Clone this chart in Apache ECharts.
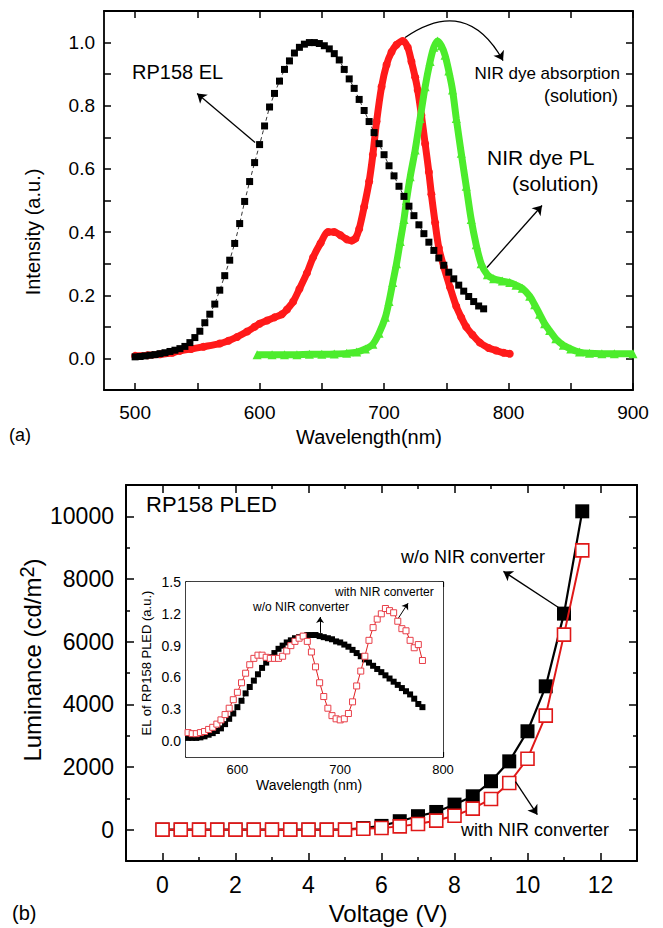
<!DOCTYPE html>
<html><head><meta charset="utf-8">
<script src="https://cdn.jsdelivr.net/npm/echarts@6/dist/echarts.min.js"></script>
<style>html,body{margin:0;padding:0;background:#fff}#c{width:663px;height:928px}</style>
</head><body><div id="c"></div>
<script>
// ---------- Panel (a) data ----------
const elWl = [500,504,508,512,516,520,524,528,532,536,540,544,548,552,556,560,564,568,572,576,580,584,588,592,596,600,604,608,612,616,620,624,628,632,636,640,644,648,652,656,660,664,668,672,676,680,684,688,692,696,700,704,708,712,716,720,724,728,732,736,740,744,748,752,756,760,764,768,772,776,780];
const elInt = [0.005,0.006,0.008,0.010,0.012,0.015,0.018,0.022,0.026,0.031,0.038,0.050,0.066,0.086,0.113,0.140,0.172,0.216,0.262,0.311,0.364,0.427,0.497,0.560,0.620,0.677,0.736,0.796,0.839,0.878,0.915,0.942,0.967,0.985,0.995,1.0,1.0,0.997,0.99,0.98,0.965,0.945,0.915,0.885,0.855,0.82,0.785,0.75,0.715,0.68,0.645,0.61,0.578,0.545,0.513,0.482,0.452,0.423,0.395,0.368,0.342,0.318,0.295,0.273,0.252,0.232,0.213,0.196,0.180,0.166,0.157];
const absWl = [500,510,520,530,536,545,555,568,575,582,590,596,600,606,612,618,622,627,632,638,643,649,655,660,665,670,674,677,680,684,688,691,694,698,702,706,710,715,719,722,725,727,730,733,736,738,741,744,748,753,758,762,766,771,777,784,790,796,801];
const absInt = [0.008,0.01,0.013,0.018,0.024,0.03,0.037,0.047,0.056,0.068,0.085,0.10,0.11,0.12,0.13,0.14,0.155,0.18,0.22,0.27,0.32,0.365,0.40,0.40,0.39,0.377,0.373,0.38,0.41,0.48,0.56,0.645,0.75,0.86,0.93,0.97,0.993,1.005,0.985,0.94,0.89,0.85,0.77,0.68,0.59,0.52,0.43,0.35,0.29,0.225,0.165,0.13,0.10,0.075,0.05,0.033,0.025,0.018,0.015];
const plWl = [598,610,620,630,640,650,660,670,678,685,691,696,701,704,707,710,713,716,718,721,725,729,733,737,740,743,746,749,752,755,758,762,766,770,774,778,783,788,795,801,806,811,817,821,825,829,833,838,844,850,857,865,875,885,900];
const plInt = [0.012,0.012,0.012,0.012,0.013,0.013,0.014,0.016,0.02,0.03,0.045,0.08,0.13,0.18,0.24,0.30,0.37,0.44,0.50,0.575,0.66,0.76,0.86,0.94,0.985,1.005,0.99,0.96,0.91,0.85,0.76,0.65,0.545,0.44,0.36,0.30,0.265,0.252,0.245,0.24,0.232,0.222,0.197,0.17,0.14,0.11,0.088,0.062,0.042,0.03,0.02,0.016,0.015,0.015,0.015];

// ---------- Panel (b) data ----------
const volt = [0,0.5,1,1.5,2,2.5,3,3.5,4,4.5,5,5.5,6,6.5,7,7.5,8,8.5,9,9.5,10,10.5,11,11.5];
const lumWo = [0,0,0,0,0,0,0,0,0,0,0,50,120,270,430,565,800,1065,1545,2180,3140,4575,6895,10160];
const lumWith = [0,0,0,0,0,0,0,0,0,0,0,30,55,105,180,290,445,670,980,1490,2265,3640,6225,8915];

// ---------- Inset data ----------
const insWl = [552,556,560,564,568,572,576,580,584,588,592,596,600,604,608,612,616,620,624,628,632,636,640,644,648,652,656,660,664,668,672,676,680,684,688,692,696,700,704,708,712,716,720,724,728,732,736,740,744,748,752,756,760,764,768,772,776,780];
const insWo = [0.03,0.03,0.03,0.035,0.045,0.06,0.075,0.095,0.12,0.16,0.21,0.26,0.32,0.38,0.45,0.51,0.57,0.63,0.69,0.74,0.79,0.83,0.87,0.90,0.93,0.95,0.97,0.98,0.99,1.0,1.0,1.0,0.99,0.98,0.97,0.96,0.94,0.93,0.91,0.89,0.86,0.83,0.80,0.77,0.74,0.71,0.68,0.65,0.62,0.59,0.56,0.53,0.50,0.47,0.44,0.40,0.35,0.32];
const insWith = [0.08,0.07,0.07,0.08,0.09,0.11,0.13,0.16,0.20,0.25,0.31,0.39,0.46,0.55,0.64,0.72,0.78,0.81,0.81,0.79,0.78,0.78,0.78,0.80,0.85,0.90,0.94,0.97,0.99,0.94,0.84,0.70,0.55,0.42,0.31,0.24,0.21,0.20,0.21,0.26,0.37,0.52,0.66,0.80,0.95,1.07,1.15,1.20,1.25,1.23,1.21,1.13,1.06,1.04,0.95,0.88,0.91,0.76];

// ---------- Tick values ----------
const aXMajor = [500,600,700,800,900], aXMinor = [550,650,750,850];
const aYMajor = [0,0.2,0.4,0.6,0.8,1.0], aYMinor = [0.1,0.3,0.5,0.7,0.9];
const bXMajor = [0,2,4,6,8,10,12], bXMinor = [1,3,5,7,9,11];
const bYMajor = [0,2000,4000,6000,8000,10000], bYMinor = [1000,3000,5000,7000,9000];
const iXMajor = [600,700,800], iXMinor = [650,750];
const iYMajor = [0,0.3,0.6,0.9,1.2,1.5], iYMinor = [0.15,0.45,0.75,1.05,1.35];

const FONT = '"Liberation Sans", Arial, Helvetica, sans-serif';
const zip = (a, b) => a.map((v, i) => [v, b[i]]);

function axisSet(kind, grid, min, max, major, minor, o) {
  const pos = kind === 'x' ? ['bottom', 'top'] : ['left', 'right'];
  const base = { gridIndex: grid, type: 'value', min: min, max: max, splitLine: { show: false }, animation: false };
  const line = { show: true, onZero: false, lineStyle: { color: '#000', width: o.lw } };
  const noLine = { show: false, onZero: false };
  const tk = (vals, len) => ({ show: true, inside: true, length: len, customValues: vals, lineStyle: { color: '#000', width: o.tw } });
  return [
    Object.assign({}, base, { position: pos[0], axisLine: line, axisTick: tk(major, o.maj),
      axisLabel: { show: true, customValues: major, formatter: o.fmt, fontSize: o.fs, fontFamily: FONT, color: '#000', margin: o.margin } }),
    Object.assign({}, base, { position: pos[0], axisLine: noLine, axisTick: tk(minor, o.min), axisLabel: { show: false } }),
    Object.assign({}, base, { position: pos[1], axisLine: line, axisTick: tk(major, o.maj), axisLabel: { show: false } }),
    Object.assign({}, base, { position: pos[1], axisLine: noLine, axisTick: tk(minor, o.min), axisLabel: { show: false } })
  ];
}

const xAxes = [].concat(
  axisSet('x', 0, 475, 900, aXMajor, aXMinor, { lw: 1.8, tw: 1.5, maj: 7, min: 7, fs: 19, margin: 13, fmt: v => String(v) }),
  axisSet('x', 1, -1, 13, bXMajor, bXMinor, { lw: 2, tw: 1.5, maj: 8, min: 4, fs: 23, margin: 12, fmt: v => String(v) }),
  axisSet('x', 2, 550, 800, iXMajor, iXMinor, { lw: 1.5, tw: 1.2, maj: 5, min: 3, fs: 13, margin: 6, fmt: v => String(v) })
);
const yAxes = [].concat(
  axisSet('y', 0, -0.1, 1.1, aYMajor, aYMinor, { lw: 1.8, tw: 1.5, maj: 7, min: 7, fs: 19, margin: 9, fmt: v => v.toFixed(1) }),
  axisSet('y', 1, -1000, 11000, bYMajor, bYMinor, { lw: 2, tw: 1.5, maj: 8, min: 4, fs: 23, margin: 12, fmt: v => String(Math.round(v)) }),
  axisSet('y', 2, -0.15, 1.5, iYMajor, iYMinor, { lw: 1.5, tw: 1.2, maj: 5, min: 3, fs: 14, margin: 5, fmt: v => v.toFixed(1) })
);

const arrowML = (pairs, extra) => Object.assign({
  silent: true, animation: false, symbol: ['none', 'arrow'], symbolSize: 9,
  label: { show: false }, lineStyle: { color: '#000', width: 1.3, type: 'solid' },
  data: pairs.map(p => [{ coord: p[0] }, { coord: p[1] }])
}, extra || {});

const series = [
  { type: 'line', name: 'NIR dye absorption', xAxisIndex: 0, yAxisIndex: 0, z: 2, smooth: 0.3,
    data: zip(absWl, absInt), symbol: 'circle', symbolSize: 8, showSymbol: true,
    itemStyle: { color: '#ff1a1a' }, lineStyle: { color: '#ff1a1a', width: 7 } },
  { type: 'lines', coordinateSystem: 'cartesian2d', xAxisIndex: 0, yAxisIndex: 0, z: 10, silent: true,
    symbol: ['none', 'arrow'], symbolSize: 9,
    lineStyle: { color: '#000', width: 1.3, curveness: 0.55, opacity: 1 },
    data: [{ coords: [[716.9, 1.016], [795.6, 0.943]] }] },
  { type: 'line', name: 'NIR dye PL', xAxisIndex: 0, yAxisIndex: 0, z: 3, smooth: 0.3,
    data: zip(plWl, plInt), symbol: 'triangle', symbolSize: 9, showSymbol: true,
    itemStyle: { color: '#4cec2c' }, lineStyle: { color: '#4cec2c', width: 7 },
    markLine: arrowML([[[782.7, 0.288], [826.9, 0.484]]]) },
  { type: 'line', name: 'RP158 EL', xAxisIndex: 0, yAxisIndex: 0, z: 4,
    data: zip(elWl, elInt), symbol: 'rect', symbolSize: 7, showSymbol: true,
    itemStyle: { color: '#000' }, lineStyle: { color: '#000', width: 0.8, type: [4, 3] },
    markLine: arrowML([[[596.4, 0.684], [549.8, 0.839]]]) },

  { type: 'line', name: 'w/o NIR converter', xAxisIndex: 4, yAxisIndex: 4, z: 3,
    data: zip(volt, lumWo), symbol: 'rect', symbolSize: 14, showSymbol: true,
    itemStyle: { color: '#000' }, lineStyle: { color: '#000', width: 2.2 },
    markLine: arrowML([[[10.85, 7093], [9.34, 8243]]]) },
  { type: 'line', name: 'with NIR converter', xAxisIndex: 4, yAxisIndex: 4, z: 4,
    data: zip(volt, lumWith), symbol: 'rect', symbolSize: 13, showSymbol: true,
    itemStyle: { color: '#fff', borderColor: '#e01818', borderWidth: 1.6 }, lineStyle: { color: '#e01818', width: 2 },
    markLine: arrowML([[[9.67, 1534], [10.27, 479]]]) },

  { type: 'line', name: 'inset w/o', xAxisIndex: 8, yAxisIndex: 8, z: 5,
    data: zip(insWl, insWo), symbol: 'rect', symbolSize: 6, showSymbol: true,
    itemStyle: { color: '#000' }, lineStyle: { color: '#000', width: 1 },
    markLine: arrowML([[[680.4, 1.02], [680.4, 1.17]]], { symbolSize: 6, lineStyle: { color: '#000', width: 1, type: 'solid' } }) },
  { type: 'line', name: 'inset with', xAxisIndex: 8, yAxisIndex: 8, z: 6,
    data: zip(insWl, insWith), symbol: 'rect', symbolSize: 6, showSymbol: true,
    itemStyle: { color: '#fff', borderColor: '#e8404a', borderWidth: 1 }, lineStyle: { color: '#e02020', width: 1 },
    markLine: arrowML([[[755.3, 1.14], [766, 1.30]]], { symbolSize: 6, lineStyle: { color: '#000', width: 1, type: 'solid' } }) }
];

const T = (text, x, y, fs, align, extra) => Object.assign({
  type: 'text', x: x, y: y, silent: true, z: 100,
  style: { text: text, fontSize: fs, fontFamily: FONT, fill: '#000', textAlign: align || 'left', textVerticalAlign: 'middle' }
}, extra || {});

const graphics = [
  T('(a)', 9, 435, 18),
  T('Wavelength(nm)', 369, 437, 20, 'center'),
  T('Intensity (a.u.)', 33, 232, 20, 'center', { rotation: Math.PI / 2 }),
  T('RP158 EL', 132, 72, 20),
  T('NIR dye absorption', 620, 73, 17, 'right'),
  T('(solution)', 618, 96, 18, 'right'),
  T('NIR dye PL', 487, 157, 21),
  T('(solution)', 512, 183, 21),
  T('(b)', 12, 913, 20),
  T('Voltage (V)', 388, 913, 24, 'center'),
  { type: 'text', x: 32, y: 660, rotation: Math.PI / 2, silent: true, z: 100,
    style: { text: 'Luminance (cd/m{s|2})', fontSize: 24, fontFamily: FONT, fill: '#000', textAlign: 'center', textVerticalAlign: 'middle',
      rich: { s: { fontSize: 20, fontFamily: FONT, fill: '#000', verticalAlign: 'top', padding: [0, 0, 10, 0] } } } },
  T('RP158 PLED', 146, 504, 22),
  T('w/o NIR converter', 401, 557, 18),
  T('with NIR converter', 461, 830, 18),
  T('with NIR converter', 335, 592, 12),
  T('w/o NIR converter', 253, 607, 12),
  T('Wavelength (nm)', 309, 785, 14, 'center'),
  T('EL of RP158 PLED (a.u.)', 146, 663, 13, 'center', { rotation: Math.PI / 2 })
];

const chart = echarts.init(document.getElementById('c'), null, { renderer: 'svg' });
chart.setOption({
  animation: false,
  backgroundColor: '#fff',
  grid: [
    { left: 104, top: 11, width: 529, height: 379, containLabel: false },
    { left: 126, top: 485, width: 511, height: 376, containLabel: false },
    { left: 186, top: 582, width: 257, height: 175, containLabel: false, show: true, backgroundColor: '#fff', borderWidth: 0, z: 3 }
  ],
  xAxis: xAxes,
  yAxis: yAxes,
  series: series,
  graphic: graphics
});
</script>
</body></html>
